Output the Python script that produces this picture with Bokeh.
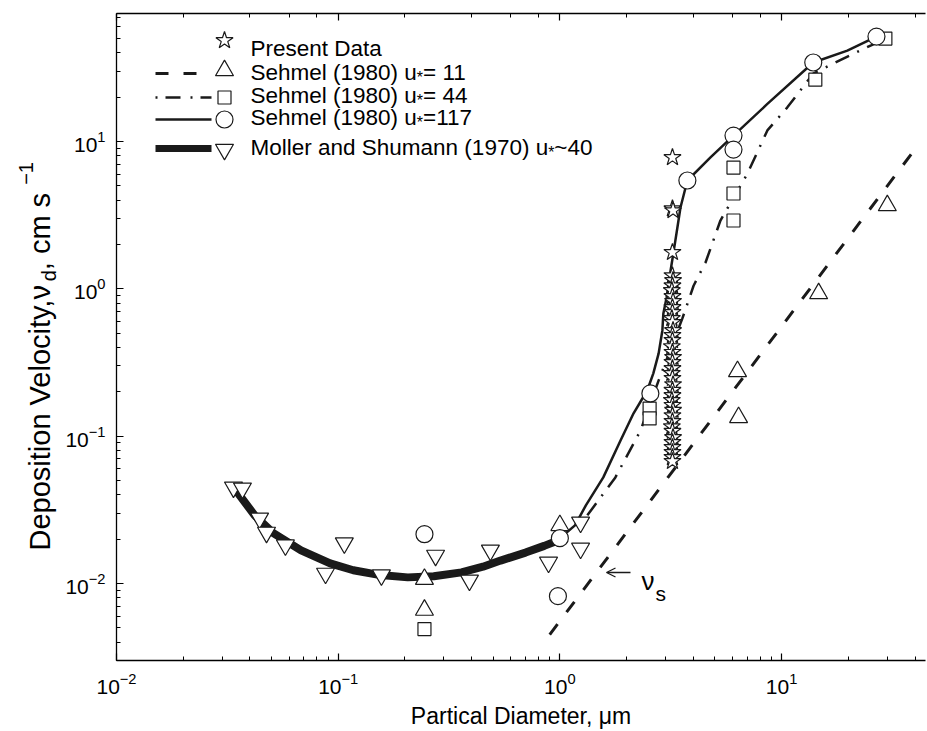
from math import log10, pi

from bokeh.plotting import figure
from bokeh.layouts import row
from bokeh.models import (Label, LogAxis, LogTicker, Arrow, OpenHead, CustomJSTickFormatter,
                          Range1d)
from bokeh.embed import file_html
from bokeh.resources import INLINE

FONT = "Liberation Sans"
INK = "#1a1a1a"

# ---------------- data (particle diameter in um, deposition velocity in cm/s) ----------------
present_d = [3.22, 3.22, 3.24, 3.22,
             3.22, 3.24, 3.22, 3.20, 3.22, 3.24, 3.22, 3.22, 3.20, 3.22,
             3.24, 3.22, 3.22, 3.20, 3.22, 3.24, 3.22, 3.22, 3.20, 3.22,
             3.24, 3.22, 3.22, 3.20, 3.22, 3.24, 3.22, 3.22, 3.20, 3.22,
             3.24, 3.22, 3.22, 3.22, 3.22, 3.22]
present_v = [7.8, 3.5, 3.4, 1.77,
             1.23, 1.14, 1.05, 0.975, 0.888, 0.822, 0.748, 0.692, 0.630, 0.592,
             0.522, 0.483, 0.447, 0.406, 0.371, 0.343, 0.317, 0.288, 0.267, 0.247,
             0.224, 0.205, 0.189, 0.175, 0.162, 0.150, 0.138, 0.126, 0.116, 0.108,
             0.098, 0.0908, 0.0839, 0.0776, 0.0718, 0.0675]

# Sehmel (1980), u* = 11 : settling-velocity line and measured points
s11_line_d = [0.9, 38.9]
s11_line_v = [0.0045, 8.4]
s11_pts_d = [0.245, 0.245, 1.0, 6.33, 6.4, 14.7, 30.0]
s11_pts_v = [0.0107, 0.0066, 0.0248, 0.275, 0.134, 0.93, 3.68]

# Sehmel (1980), u* = 44
s44_line_d = [1.33, 1.78, 2.31, 2.79, 3.57, 4.01, 4.54, 5.30, 7.02, 8.63, 10.6, 13.9, 19.0, 25.2, 28.5]
s44_line_v = [0.029, 0.0525, 0.109, 0.239, 0.63, 1.05, 1.51, 2.91, 6.07, 11.9, 17.0, 28.9, 36.6, 44.8, 48.5]
s44_pts_d = [0.245, 2.54, 2.54, 6.07, 6.07, 6.07, 14.2, 29.4]
s44_pts_v = [0.0049, 0.154, 0.132, 6.66, 4.44, 2.91, 26.3, 50.0]

# Sehmel (1980), u* = 117
s117_line_d = [1.0, 1.17, 1.31, 1.57, 1.88, 2.15, 2.48, 2.64, 2.79, 2.90, 2.93, 3.03, 3.12,
               3.25, 3.39, 3.50, 3.76, 4.78, 6.07, 8.63, 13.9, 19.8, 26.8]
s117_line_v = [0.0203, 0.0248, 0.0339, 0.0525, 0.0937, 0.143, 0.205, 0.267, 0.365, 0.522, 0.681,
               0.875, 1.19, 1.74, 2.61, 3.57, 5.44, 7.8, 10.98, 18.0, 34.4, 41.4, 51.6]
s117_pts_d = [0.245, 1.0, 0.98, 2.56, 3.76, 6.07, 6.07, 13.9, 26.8]
s117_pts_v = [0.0216, 0.0203, 0.0082, 0.195, 5.44, 10.98, 8.82, 34.4, 51.6]

# Moller and Shumann (1970), u* ~ 40
ms_line_d = [0.033, 0.042, 0.051, 0.068, 0.092, 0.117, 0.155, 0.206, 0.27, 0.36, 0.45, 0.54, 0.70, 0.85, 1.0]
ms_line_v = [0.047, 0.029, 0.022, 0.0168, 0.0137, 0.0123, 0.0114, 0.0110, 0.0112, 0.0119, 0.0130,
             0.0143, 0.0162, 0.0180, 0.0198]
ms_pts_d = [0.0337, 0.037, 0.0442, 0.0475, 0.0578, 0.0877, 0.1066, 0.1567, 0.275, 0.391, 0.486,
            0.889, 1.24, 1.24]
ms_pts_v = [0.045, 0.0443, 0.0277, 0.0222, 0.0182, 0.0117, 0.0188, 0.0114, 0.0155, 0.0105, 0.0168,
            0.0139, 0.0173, 0.026]

legend_labels = [
    ("Present Data", None, None),
    ("Sehmel (1980) u", "*", " = 11"),
    ("Sehmel (1980) u", "*", " = 44"),
    ("Sehmel (1980) u", "*", " =117"),
    ("Moller and Shumann (1970) u", "*", " ~40"),
]

# ---------------- layout (page pixel coordinates) ----------------
W, H = 927, 731
SIDE_W = 62                                 # left strip holding the vertical axis title
FL, FR, FT, FB = 116, 925, 13, 660          # plot frame edges on the page
X_MIN, X_MAX = 0.01, 44.6
Y_MIN, Y_MAX = 0.003, 74.0

x_rng = Range1d(X_MIN, X_MAX)
y_rng = Range1d(Y_MIN, Y_MAX)

# approximate advance widths (em) of Liberation Sans, for laying out mixed-size text
ADV = {" ": .278, "(": .333, ")": .333, "*": .389, ",": .278, "=": .584, "~": .584,
       "D": .722, "M": .833, "P": .667, "S": .667, "V": .667,
       "a": .556, "c": .5, "d": .556, "e": .556, "h": .556, "i": .222, "l": .222, "m": .833,
       "n": .556, "o": .556, "p": .556, "r": .333, "s": .5, "t": .278, "u": .556, "y": .5,
       "\u03bd": .5, "\u03bc": .576, "\u2212": .584}


def text_w(s, size):
    return sum(ADV.get(ch, .556) for ch in s) * size


def to_data(cx, cy):
    """Page pixel -> data coordinates on the log axes."""
    lx = log10(X_MIN) + (cx - FL) / (FR - FL) * (log10(X_MAX) - log10(X_MIN))
    ly = log10(Y_MAX) - (cy - FT) / (FB - FT) * (log10(Y_MAX) - log10(Y_MIN))
    return 10 ** lx, 10 ** ly


def style_axis(ax):
    ax.major_tick_in = 7
    ax.major_tick_out = 0
    ax.minor_tick_in = 4
    ax.minor_tick_out = 0
    ax.axis_line_width = 1.3
    ax.axis_line_color = "black"
    ax.major_tick_line_color = "black"
    ax.minor_tick_line_color = "black"
    ax.major_tick_line_width = 1.2
    ax.minor_tick_line_width = 1.0
    ax.major_label_text_font = FONT
    ax.major_label_text_font_size = "21px"
    ax.major_label_text_color = "black"


# ---------------- main plot ----------------
p = figure(width=W - SIDE_W, height=H, x_axis_type="log", y_axis_type="log",
           x_range=x_rng, y_range=y_rng,
           output_backend="svg", toolbar_location=None,
           min_border_left=FL - SIDE_W, min_border_right=W - FR,
           min_border_top=FT, min_border_bottom=H - FB)
p.outline_line_color = None
p.grid.visible = False
p.background_fill_color = "white"
p.border_fill_color = "white"

style_axis(p.xaxis[0])
style_axis(p.yaxis[0])
p.yaxis.major_label_standoff = 11
p.xaxis.major_label_standoff = 12
p.xaxis.axis_label = "Partical Diameter, \u03bcm"
p.xaxis.axis_label_text_font = FONT
p.xaxis.axis_label_text_font_size = "23px"
p.xaxis.axis_label_text_font_style = "normal"
p.xaxis.axis_label_text_color = "black"
p.xaxis.axis_label_standoff = 6

top = LogAxis(ticker=LogTicker(), formatter=CustomJSTickFormatter(code="return ''"))
style_axis(top)
top.major_label_text_font_size = "0px"
top.major_label_standoff = 0
p.add_layout(top, "above")

# ---------------- curves ----------------
p.line(ms_line_d, ms_line_v, line_width=8, line_color=INK)
p.line(s11_line_d, s11_line_v, line_width=3, line_color=INK, line_dash="13 15")
p.line(s44_line_d, s44_line_v, line_width=2.5, line_color=INK, line_dash="15 9 2 9")
p.line(s117_line_d, s117_line_v, line_width=2.5, line_color=INK)

# ---------------- measured points ----------------
mk = dict(fill_color="white", line_color=INK, line_width=1.2)
p.scatter(ms_pts_d, ms_pts_v, marker="inverted_triangle", size=18, **mk)
p.scatter(s11_pts_d, s11_pts_v, marker="triangle", size=18, **mk)
p.scatter(s44_pts_d, s44_pts_v, marker="square", size=13, **mk)
p.scatter(s117_pts_d, s117_pts_v, marker="circle", size=17, **mk)
p.scatter(present_d, present_v, marker="star", size=18, **mk)


def label(fig, left, bottom, cx, cy, text, size, angle=0.0, align="left"):
    """Place a text with its baseline start at page pixel (cx, cy)."""
    fig.add_layout(Label(x=cx - left, y=bottom - cy, x_units="screen", y_units="screen",
                         text=text, text_font=FONT, text_font_size=f"{size}px",
                         text_color="black", angle=angle, text_align=align,
                         text_baseline="alphabetic"))


def plabel(cx, cy, text, size, angle=0.0, align="left"):
    label(p, FL, FB, cx, cy, text, size, angle, align)


# ---------------- legend ----------------
LEG_TEXT_X = 250
LEG_MARK_X = 224
leg_text_base = [48, 72, 95, 117, 147]
leg_mark_y = [40, 70, 97, 119, 149]
leg_line_y = [None, 73, 97, 119, 148]
leg_markers = [("star", 18), ("triangle", 18), ("square", 13), ("circle", 17), ("inverted_triangle", 18)]
leg_lines = [None, dict(line_width=3, line_dash="13 15"), dict(line_width=2.5, line_dash="2 8 15 10"),
             dict(line_width=2.5), dict(line_width=7)]

for i, (main, sub, tail) in enumerate(legend_labels):
    mx, my = to_data(LEG_MARK_X, leg_mark_y[i])
    marker, size = leg_markers[i]
    if leg_lines[i] is not None:
        x0, y0 = to_data(155, leg_line_y[i])
        x1, y1 = to_data(211 if i > 1 else 200, leg_line_y[i])
        p.line([x0, x1], [y0, y1], line_color=INK, **leg_lines[i])
    p.scatter([mx], [my], marker=marker, size=size, **mk)
    plabel(LEG_TEXT_X, leg_text_base[i], main, 22.5)
    if sub:
        sx = LEG_TEXT_X + text_w(main, 22.5)
        plabel(sx, leg_text_base[i] + 5, sub, 16)
        plabel(sx + text_w(sub, 16), leg_text_base[i], tail, 22.5)

# ---------------- settling velocity marker ----------------
p.add_layout(Arrow(end=OpenHead(size=9, line_width=1.3, line_color=INK),
                   x_start=630 - FL, y_start=FB - 572, x_end=606 - FL, y_end=FB - 572,
                   start_units="screen", end_units="screen",
                   line_width=1.3, line_color=INK))
plabel(641, 580, "\u03bd", 26)
plabel(655, 593, "s", 21)

# ---------------- left strip: vertical axis title ----------------
side = figure(width=SIDE_W, height=H, x_range=(0, 1), y_range=(0, 1),
              output_backend="svg", toolbar_location=None,
              x_axis_location=None, y_axis_location=None, min_border=0)
side.outline_line_color = None
side.grid.visible = False
side.background_fill_color = "white"
side.border_fill_color = "white"


def ylabel(cx, cy, text, size):
    # the strip's frame starts at the page's left edge and shares the plot frame's bottom
    label(side, 0, FB, cx, cy, text, size, angle=pi / 2)


YF, YS = 29, 20
Y_BASE_X = 39
y0 = 550
part1 = "Deposition Velocity,\u03bd"
ylabel(Y_BASE_X, y0, part1, YF)
y1 = y0 - text_w(part1, YF)
ylabel(Y_BASE_X + 9, y1, "d", YS)
y2 = y1 - text_w("d", YS)
part3 = " , cm s"
ylabel(Y_BASE_X, y2, part3, YF)
y3 = y2 - text_w(part3, YF)
ylabel(Y_BASE_X - 14, y3, "\u22121", YS)

layout = row(side, p, spacing=0)
open("out.html", "w").write(file_html(layout, INLINE))
